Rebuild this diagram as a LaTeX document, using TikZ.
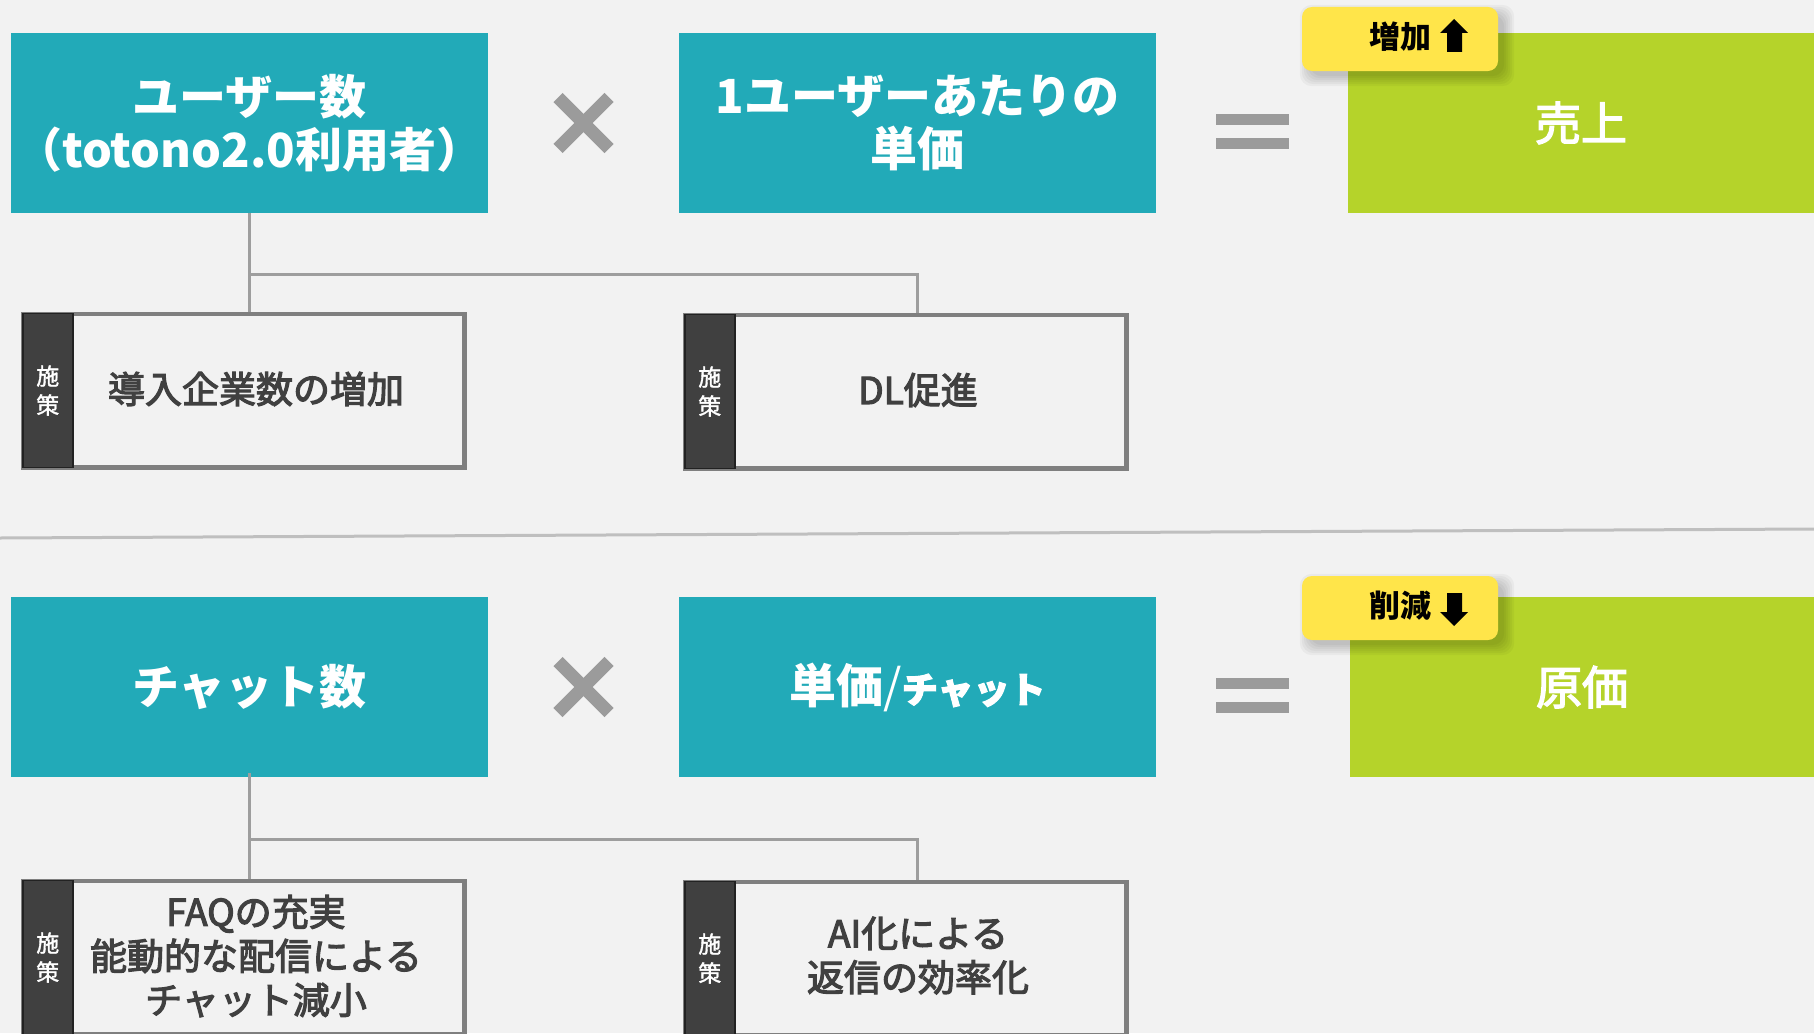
\documentclass[tikz,border=0pt]{standalone}
\usepackage{fontspec}
\setmainfont{Noto Sans CJK JP}
\newfontfamily\jpmed{Noto Sans CJK JP}[FakeBold=3]
\newfontfamily\jplight{Noto Sans CJK JP}[FakeBold=1.5]
\usetikzlibrary{calc}
\definecolor{bg}{HTML}{F2F2F2}
\definecolor{tealbox}{HTML}{22AAB8}
\definecolor{limebox}{HTML}{B5D32A}
\definecolor{badgey}{HTML}{FFE54A}
\definecolor{stripc}{HTML}{404040}
\definecolor{stripb}{HTML}{222222}
\definecolor{pborder}{HTML}{7F7F7F}
\definecolor{connc}{HTML}{9E9E9E}
\definecolor{opc}{HTML}{9B9B9B}
\definecolor{divc}{HTML}{BFBFBF}
\definecolor{ptextc}{HTML}{404040}
\begin{document}
\begin{tikzpicture}[x=1pt,y=-1pt,
  head/.style={fill=tealbox, minimum width=477pt, minimum height=180pt, inner sep=0pt,
    text=white, align=center, font=\fontsize{47pt}{53pt}\selectfont\bfseries},
  result/.style={fill=limebox, minimum height=180pt, inner sep=0pt,
    text=white, font=\jpmed\fontsize{46pt}{53pt}\selectfont},
  badge/.style={fill=badgey, rounded corners=10pt, minimum width=196pt, minimum height=64pt, inner sep=0pt},
  badgetext/.style={text=black, inner sep=0pt, font=\fontsize{31pt}{36pt}\selectfont\bfseries},
  policy/.style={draw=pborder, line width=3pt, fill=bg, minimum width=440pt, minimum height=152pt, inner sep=0pt},
  stripbox/.style={fill=stripc, draw=stripb, line width=1.5pt, minimum width=50pt, minimum height=154pt,
    inner sep=0pt, text=white, align=center, font=\jplight\fontsize{23pt}{29pt}\selectfont},
  ptext/.style={text=ptextc, align=center, inner sep=0pt, font=\jpmed\fontsize{37pt}{44pt}\selectfont},
  conn/.style={draw=connc, line width=3pt},
  opline/.style={draw=opc, line width=13pt},
  eqbar/.style={fill=opc},
  divline/.style={draw=divc, line width=3pt},
  arrowshape/.style={fill=black}
]
\fill[bg] (0,0) rectangle (1814,1033);
\clip (0,0) rectangle (1814,1033);

% divider
\coordinate (dl) at (0,538);
\coordinate (dr) at (1814,529);
\draw[divline] (dl) -- (dr);

% ================= top row =================
\coordinate (j1) at (249.5,274);
\node[policy] (a1) at (243.5,390.5) {};
\node[policy] (a2) at (905.5,391.5) {};
\node[head] (u1) at (249.5,123) {ユーザー数\\（totono2.0利用者）};
\node[head] (p1) at (917.5,123) {1ユーザーあたりの\\単価};
\draw[conn] (u1.south) -- (u1.south |- a1.north);
\draw[conn] (j1) -| (p1.south |- a2.north);
\draw[policy, fill=none] (a1.north west) rectangle (a1.south east);
\draw[policy, fill=none] (a2.north west) rectangle (a2.south east);
\node[stripbox, anchor=west] (a1s) at (a1.west) {施\\策};
\node[stripbox, anchor=west] (a2s) at (a2.west) {施\\策};
\node[ptext] (a1t) at (256,389) {導入企業数の増加};
\node[ptext] (a2t) at (918,390) {DL促進};

% times sign
\coordinate (x1) at (583.5,123);
\draw[opline] ($(x1)+(-25.5,-25.5)$) -- ($(x1)+(25.5,25.5)$);
\draw[opline] ($(x1)+(-25.5,25.5)$) -- ($(x1)+(25.5,-25.5)$);
% equals sign
\coordinate (e1) at (1252.5,131.5);
\fill[eqbar] ($(e1)+(-36.5,-17.5)$) rectangle ($(e1)+(36.5,-6.5)$);
\fill[eqbar] ($(e1)+(-36.5,6.5)$) rectangle ($(e1)+(36.5,17.5)$);

% result
\node[result, minimum width=466pt] (s1) at (1581,123) {売上};
% badge with shadow
\node[badge, fill=none] (b1) at (1400,39) {};
\foreach \i in {0,2,...,10}{
  \fill[black, opacity=0.035, rounded corners=12pt]
    ($(b1.north west)+(8-\i,8-\i)$) rectangle ($(b1.south east)+(6+\i,5+\i)$);
}
\node[badge] (b1f) at (1400,39) {};
\node[badgetext] (b1t) at (1400,37) {増加};
\fill[arrowshape] (1440,33) -- (1454,19) -- (1468,33) -- (1462,33) -- (1462,52) -- (1447,52) -- (1447,33) -- cycle;

% ================= bottom row =================
\coordinate (j2) at (249.5,839);
\node[policy] (c1) at (243.5,957.5) {};
\node[policy] (c2) at (905.5,958.5) {};
\node[head] (u2) at (249.5,687) {チャット数};
\node[head] (p2) at (917.5,687) {単価{\mdseries /}{\jpmed\fontsize{36pt}{40pt}\selectfont チャット}};
\draw[conn] ($(u2.south)+(0,-4)$) -- (u2.south |- c1.north);
\draw[conn] (j2) -| (p2.south |- c2.north);
\draw[policy, fill=none] (c1.north west) rectangle (c1.south east);
\draw[policy, fill=none] (c2.north west) rectangle (c2.south east);
\node[stripbox, anchor=west] (c1s) at (c1.west) {施\\策};
\node[stripbox, anchor=west] (c2s) at (c2.west) {施\\策};
\node[ptext] (c1t) at (256,956) {FAQの充実\\能動的な配信による\\チャット減小};
\node[ptext] (c2t) at (918,955.5) {AI化による\\返信の効率化};

% times sign
\coordinate (x2) at (583.5,687);
\draw[opline] ($(x2)+(-25.5,-25.5)$) -- ($(x2)+(25.5,25.5)$);
\draw[opline] ($(x2)+(-25.5,25.5)$) -- ($(x2)+(25.5,-25.5)$);
% equals sign
\coordinate (e2) at (1252.5,695.5);
\fill[eqbar] ($(e2)+(-36.5,-17.5)$) rectangle ($(e2)+(36.5,-6.5)$);
\fill[eqbar] ($(e2)+(-36.5,6.5)$) rectangle ($(e2)+(36.5,17.5)$);

% result
\node[result, minimum width=464pt] (s2) at (1582,687) {原価};
\node[badge, fill=none] (b2) at (1400,608) {};
\foreach \i in {0,2,...,10}{
  \fill[black, opacity=0.035, rounded corners=12pt]
    ($(b2.north west)+(8-\i,8-\i)$) rectangle ($(b2.south east)+(6+\i,5+\i)$);
}
\node[badge] (b2f) at (1400,608) {};
\node[badgetext] (b2t) at (1400,606) {削減};
\fill[arrowshape] (1447,593) -- (1462,593) -- (1462,612) -- (1468,612) -- (1454,626) -- (1440,612) -- (1447,612) -- cycle;
\end{tikzpicture}
\end{document}
